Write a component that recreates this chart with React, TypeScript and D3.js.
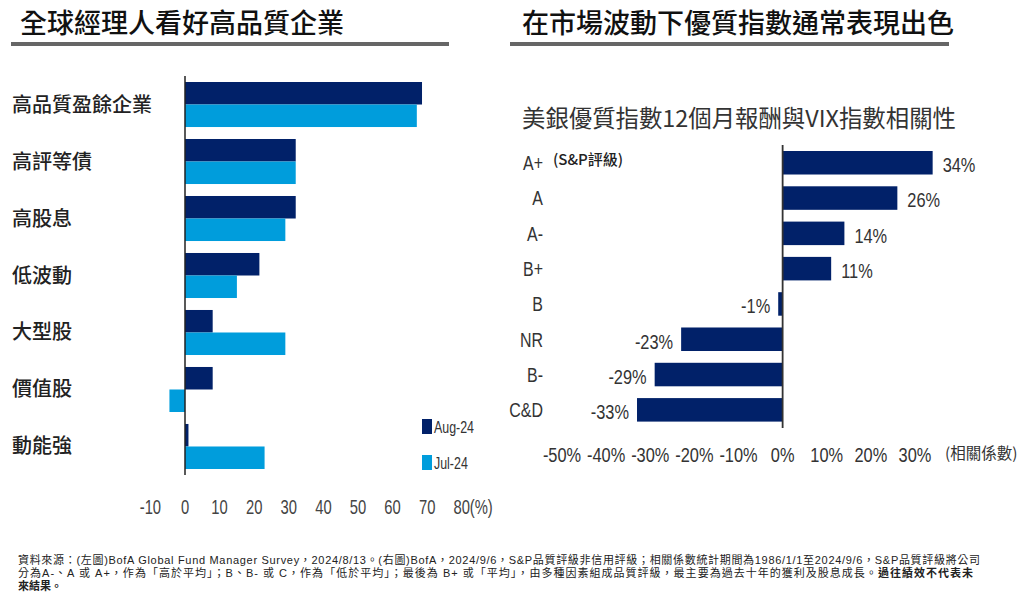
import React from "react";
import * as d3 from "d3";

// ---------- Left chart data ----------
const leftCategories = ["高品質盈餘企業", "高評等債", "高股息", "低波動", "大型股", "價值股", "動能強"];
const leftSeries = ["Aug-24", "Jul-24"];
const aug24 = [68.5, 32, 32, 21.5, 8, 8, 1];
const jul24 = [67, 32, 29, 15, 29, -4.5, 23];
const leftTicks = [-10, 0, 10, 20, 30, 40, 50, 60, 70, 80];

// ---------- Right chart data ----------
const rightCategories = ["A+", "A", "A-", "B+", "B", "NR", "B-", "C&D"];
const rightValues = [34, 26, 14, 11, -1, -23, -29, -33];
const rightTicks = [-50, -40, -30, -20, -10, 0, 10, 20, 30];

const titleLeft = "全球經理人看好高品質企業";
const titleRight = "在市場波動下優質指數通常表現出色";
const subtitleRight = "美銀優質指數12個月報酬與VIX指數相關性";

const footer1 = "資料來源：(左圖)BofA Global Fund Manager Survey，2024/8/13。(右圖)BofA，2024/9/6，S&P品質評級非信用評級；相關係數統計期間為1986/1/1至2024/9/6，S&P品質評級將公司";
const footer2a = "分為A-、A 或 A+，作為「高於平均」；B、B- 或 C，作為「低於平均」；最後為 B+ 或「平均」，由多種因素組成品質評級，最主要為過去十年的獲利及股息成長。";
const footer2b = "過往績效不代表未";
const footer3 = "來結果。";

const NAVY = "#012169";
const LIGHT = "#009ddc";
const CJK = "'Noto Sans CJK TC', 'Noto Sans CJK SC', sans-serif";
const SANS = "'Liberation Sans', Arial, sans-serif";
const FOOT = "'Liberation Sans', 'Noto Sans CJK TC', sans-serif";

type CondProps = {
  x: number;
  y: number;
  size: number;
  sx: number;
  anchor?: "start" | "middle" | "end";
  fill?: string;
  children: React.ReactNode;
};

// Condensed text: Liberation Sans squeezed horizontally
function Cond({ x, y, size, sx, anchor = "start", fill = "#333", children }: CondProps) {
  return (
    <g transform={`translate(${x},${y}) scale(${sx},1)`}>
      <text x={0} y={0} dy="0.35em" textAnchor={anchor} fontFamily={SANS} fontSize={size} fill={fill}>
        {children}
      </text>
    </g>
  );
}

export default function App() {
  // left scales
  const xL = d3.scaleLinear().domain([-10, 80]).range([150.4, 461.8]);
  const yL = d3.scaleBand<string>().domain(leftCategories).range([82, 469]).paddingInner(0.21).paddingOuter(0);
  const yLs = d3.scaleBand<string>().domain(leftSeries).range([0, yL.bandwidth()]);

  // right scales
  const xR = d3.scaleLinear().domain([-50, 30]).range([562, 915]);
  const yR = d3.scaleBand<string>().domain(rightCategories).range([151, 421.6]).paddingInner(0.334).paddingOuter(0);

  const leftRows = leftCategories.map((c, i) => ({ c, vals: [aug24[i], jul24[i]] }));

  return (
    <svg width={1024} height={596} style={{ position: "absolute", left: 0, top: 0, background: "#fff" }}>
      {/* Titles */}
      <text x={20} y={33} fontFamily={CJK} fontSize={27} fontWeight={500} fill="#111">{titleLeft}</text>
      <rect x={11} y={42} width={438} height={4} fill="#666" />
      <text x={522} y={33} fontFamily={CJK} fontSize={27} fontWeight={500} fill="#111">{titleRight}</text>
      <rect x={510} y={42} width={439} height={4} fill="#666" />

      {/* Left chart */}
      {leftRows.map((r) => (
        <g key={r.c}>
          <text x={12} y={(yL(r.c) as number) + yL.bandwidth() / 2} dy="0.35em" fontFamily={CJK} fontSize={20} fontWeight={500} fill="#222">{r.c}</text>
          {r.vals.map((v, j) => (
            <rect key={j}
              x={xL(Math.min(0, v))}
              y={(yL(r.c) as number) + (yLs(leftSeries[j]) as number)}
              width={Math.abs(xL(v) - xL(0))}
              height={yLs.bandwidth()}
              fill={j === 0 ? NAVY : LIGHT} />
          ))}
        </g>
      ))}
      <line x1={xL(0)} x2={xL(0)} y1={76} y2={475} stroke="#222" strokeWidth={1.5} />
      {leftTicks.map((t) => (
        <Cond key={t} x={xL(t)} y={507} size={20} sx={0.74} anchor="middle" fill="#444">{t}</Cond>
      ))}
      <Cond x={xL(80) + 8} y={507} size={20} sx={0.74} fill="#444">(%)</Cond>

      {/* Legend */}
      {leftSeries.map((s, i) => (
        <g key={s}>
          <rect x={422} y={419 + i * 36} width={10} height={15} fill={i === 0 ? NAVY : LIGHT} />
          <Cond x={434} y={427 + i * 36} size={17} sx={0.73} fill="#333">{s}</Cond>
        </g>
      ))}

      {/* Right chart */}
      <text x={522} y={119} dy="0.35em" fontFamily={CJK} fontSize={23.4} fontWeight={400} fill="#333">{subtitleRight}</text>
      {rightCategories.map((c, i) => {
        const v = rightValues[i];
        const y0 = yR(c) as number;
        const yc = y0 + yR.bandwidth() / 2;
        return (
          <g key={c}>
            <Cond x={543} y={yc} size={21} sx={0.76} anchor="end" fill="#333">{c}</Cond>
            <rect x={xR(Math.min(0, v))} y={y0} width={Math.abs(xR(v) - xR(0))} height={yR.bandwidth()} fill={NAVY} />
            <Cond x={v >= 0 ? xR(v) + 10 : xR(v) - 8} y={yc + 2} size={21} sx={0.78} anchor={v >= 0 ? "start" : "end"} fill="#333">{`${v}%`}</Cond>
          </g>
        );
      })}
      <text x={553} y={160} dy="0.35em" fontFamily={CJK} fontSize={15} fontWeight={500} fill="#222">(S&amp;P評級)</text>
      <line x1={xR(0)} x2={xR(0)} y1={145} y2={428} stroke="#333" strokeWidth={1.8} />
      {rightTicks.map((t) => (
        <Cond key={t} x={xR(t)} y={455} size={21} sx={0.78} anchor="middle" fill="#333">{`${t}%`}</Cond>
      ))}
      <text x={945} y={454} dy="0.35em" fontFamily={CJK} fontSize={15.5} fill="#333">(相關係數)</text>

      {/* Footer */}
      <text x={18} y={564} fontFamily={FOOT} fontSize={11} fill="#222" textLength={962} lengthAdjust="spacing">{footer1}</text>
      <text x={18} y={577} fontFamily={FOOT} fontSize={11} fill="#222" textLength={955} lengthAdjust="spacing">
        {footer2a}
        <tspan fontWeight={700}>{footer2b}</tspan>
      </text>
      <text x={18} y={590} fontFamily={FOOT} fontSize={11} fontWeight={700} fill="#222">{footer3}</text>
    </svg>
  );
}
